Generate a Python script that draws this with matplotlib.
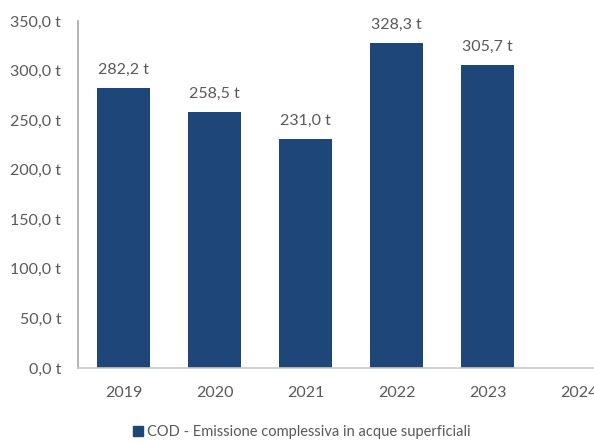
import matplotlib.pyplot as plt
from matplotlib.patches import Patch

years = ['2019', '2020', '2021', '2022', '2023', '2024']
cod_tonnes = [282.2, 258.5, 231.0, 328.3, 305.7, None]
y_ticks = [0, 50, 100, 150, 200, 250, 300, 350]
series_name = 'COD - Emissione complessiva in acque superficiali'

bar_color = '#1f4678'
text_color = '#595959'

plt.rcParams['font.family'] = ['Lato', 'DejaVu Sans']

fig = plt.figure(figsize=(5.94, 4.44), dpi=100)
ax = fig.add_axes([78 / 594, 76 / 444, 546 / 594, 347 / 444])

fmt = lambda v: f'{v:.1f}'.replace('.', ',') + ' t'

xs = [i for i, v in enumerate(cod_tonnes) if v is not None]
vals = [v for v in cod_tonnes if v is not None]
ax.bar(xs, vals, width=0.575, color=bar_color, zorder=2)
for x, v in zip(xs, vals):
    ax.annotate(fmt(v), (x, v), xytext=(0, 8), textcoords='offset points',
                ha='center', va='bottom', fontsize=11.5, color=text_color)

ax.set_xlim(-0.5, len(years) - 0.5)
ax.set_ylim(0, 350)
ax.set_xticks(range(len(years)))
ax.set_xticklabels(years)
ax.set_yticks(y_ticks)
ax.set_yticklabels([fmt(t) for t in y_ticks])
ax.tick_params(axis='both', length=0, labelsize=11.5, colors=text_color)
ax.tick_params(axis='x', pad=13)
ax.tick_params(axis='y', pad=12)

for side in ['top', 'right']:
    ax.spines[side].set_visible(False)
ax.spines['left'].set_color('#a6a6a6')
ax.spines['bottom'].set_color('#c8c8c8')
ax.spines['left'].set_linewidth(1.2)
ax.spines['bottom'].set_linewidth(1.2)

fig.legend(handles=[Patch(color=bar_color, label=series_name)],
           loc='center', bbox_to_anchor=(302 / 594, 1 - 432 / 444),
           frameon=False, fontsize=10.5, labelcolor=text_color,
           handlelength=0.7, handleheight=0.7, handletextpad=0.3)

fig.savefig('out.png', dpi=100)
